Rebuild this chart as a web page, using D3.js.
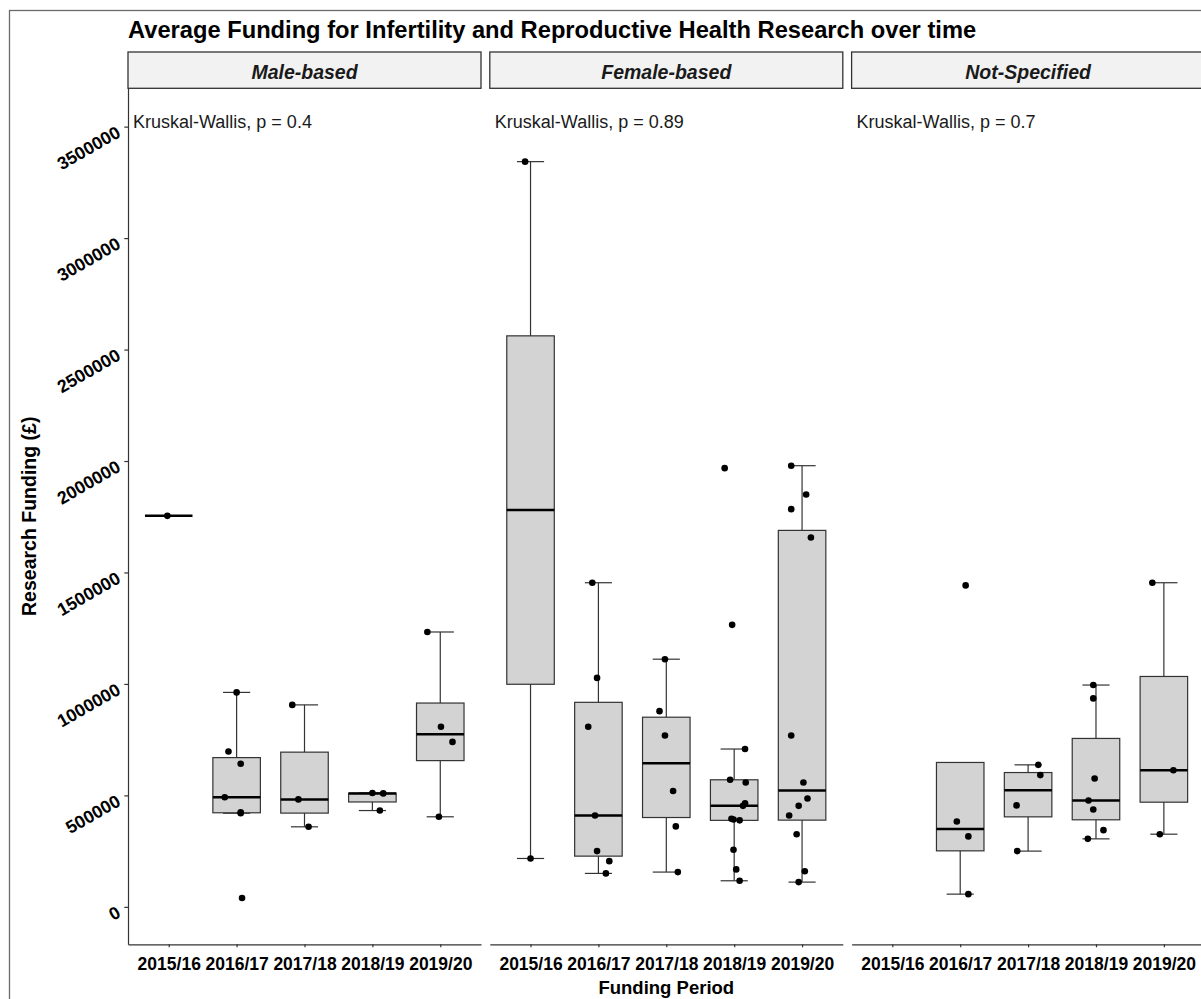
<!DOCTYPE html>
<html>
<head>
<meta charset="utf-8">
<script src="https://cdn.jsdelivr.net/npm/d3@7"></script>
<style>
  body { margin: 0; background: #fff; }
  svg { display: block; font-family: "Liberation Sans", Arial, sans-serif; }
</style>
</head>
<body>
<svg id="chart" width="1201" height="999"></svg>
<script>
// x categories, facets and the test label of each facet
const periods = ['2015/16', '2016/17', '2017/18', '2018/19', '2019/20'];
const facets = ['Male-based', 'Female-based', 'Not-Specified'];
const kwLabels = ['Kruskal-Wallis, p = 0.4', 'Kruskal-Wallis, p = 0.89', 'Kruskal-Wallis, p = 0.7'];
const yTicks = [0, 500000, 1000000, 1500000, 2000000, 2500000, 3000000, 3500000];

// funding of each grant (GBP), one list per period
const maleFunding = [
    [1754000],
    [962000, 697000, 642000, 492000, 424000, 420000, 40000],
    [906000, 482000, 359000],
    [511000, 509000, 432000],
    [1233000, 808000, 740000, 404000]
];
const femaleFunding = [
    [3343000, 217000],
    [1454000, 1027000, 808000, 410000, 250000, 205000, 150000],
    [1111000, 878000, 769000, 520000, 361000, 156000],
    [1968000, 1265000, 708000, 570000, 558000, 465000, 453000, 395000, 392000, 388000, 256000, 168000, 117000],
    [1979000, 1850000, 1784000, 1657000, 769000, 558000, 486000, 453000, 410000, 326000, 160000, 111000]
];
const notSpecFunding = [
    [],
    [1442000, 383000, 316000, 57000],
    [637000, 591000, 455000, 250000],
    [995000, 935000, 576000, 477000, 437000, 344000, 305000],
    [1454000, 613000, 326000]
];

// horizontal jitter of each dot, as a fraction of one period step
const maleJitter = [
    [-0.02],
    [0, -0.12, 0.06, -0.175, 0.06, 0.06, 0.08],
    [-0.18, -0.09, 0.06],
    [0, 0.16, 0.11],
    [-0.19, 0.01, 0.18, -0.02]
];
const femaleJitter = [
    [-0.08, 0],
    [-0.09, -0.02, -0.15, -0.05, -0.02, 0.16, 0.11],
    [-0.02, -0.1, -0.02, 0.1, 0.14, 0.17],
    [-0.14, -0.03, 0.16, -0.06, 0.17, 0.16, 0.13, -0.04, -0.01, 0.08, -0.01, 0.03, 0.08],
    [-0.16, 0.06, -0.16, 0.13, -0.16, 0.02, 0.08, -0.05, -0.19, -0.08, 0.04, -0.05]
];
const notSpecJitter = [
    [],
    [0.08, -0.05, 0.12, 0.12],
    [0.15, 0.18, -0.17, -0.16],
    [-0.04, -0.04, -0.02, -0.11, -0.04, 0.11, -0.12],
    [-0.17, 0.14, -0.06]
];

const funding = [maleFunding, femaleFunding, notSpecFunding];
const jitter = [maleJitter, femaleJitter, notSpecJitter];

// layout
const panelLeft = 128, panelW = 353, panelGap = 8.8;
const panelTop = 88.3, panelBottom = 944.3, stripTop = 52;
const font = '"Liberation Sans", Arial, sans-serif';
const lineCol = '#333333';

const svg = d3.select('#chart');

// outer plot border
svg.append('rect')
    .attr('x', 9.5).attr('y', 10.5)
    .attr('width', 1400).attr('height', 1200)
    .attr('fill', 'none')
    .attr('stroke', '#6b6b6b')
    .attr('stroke-width', 1.3);

svg.append('text')
    .attr('x', panelLeft).attr('y', 37.5)
    .attr('font-size', 23.7).attr('font-weight', 'bold')
    .attr('fill', '#000')
    .text('Average Funding for Infertility and Reproductive Health Research over time');

const y = d3.scaleLinear()
    .domain([-168000, 3672000])
    .range([panelBottom, panelTop]);

function boxStats(values) {
    const v = values.slice().sort(d3.ascending);
    const q1 = d3.quantile(v, 0.25), med = d3.quantile(v, 0.5), q3 = d3.quantile(v, 0.75);
    const iqr = q3 - q1;
    const inside = v.filter(d => d >= q1 - 1.5 * iqr && d <= q3 + 1.5 * iqr);
    return { q1: q1, med: med, q3: q3, lo: d3.min(inside), hi: d3.max(inside) };
}

facets.forEach((facet, f) => {
    const left = panelLeft + f * (panelW + panelGap);
    const x = d3.scalePoint()
        .domain(periods)
        .range([left, left + panelW])
        .padding(0.6);
    const step = x.step();
    const boxW = step * 0.7, capW = step * 0.4;

    // strip
    svg.append('rect')
        .attr('x', left).attr('y', stripTop)
        .attr('width', panelW).attr('height', panelTop - stripTop)
        .attr('fill', '#f2f2f2')
        .attr('stroke', lineCol)
        .attr('stroke-width', 1.3);
    svg.append('text')
        .attr('x', left + panelW / 2).attr('y', 78.5)
        .attr('text-anchor', 'middle')
        .attr('font-size', 19.5).attr('font-weight', 'bold').attr('font-style', 'italic')
        .attr('fill', '#1a1a1a')
        .text(facet);

    // x axis
    const xAxis = svg.append('g')
        .attr('transform', 'translate(0,' + panelBottom + ')')
        .call(d3.axisBottom(x).tickSize(3).tickSizeOuter(0));
    xAxis.select('.domain').attr('stroke', lineCol).attr('stroke-width', 1.2);
    xAxis.selectAll('.tick line').attr('stroke', lineCol).attr('stroke-width', 1.2);
    xAxis.selectAll('.tick text')
        .attr('y', 25.7).attr('dy', null)
        .attr('font-family', font).attr('font-size', 17.5).attr('font-weight', 'bold')
        .attr('fill', '#000');

    const g = svg.append('g').attr('class', 'panel');

    periods.forEach((p, i) => {
        const vals = funding[f][i];
        if (!vals.length) return;
        const s = boxStats(vals);
        const cx = x(p);

        // whiskers with caps
        g.append('line')
            .attr('x1', cx).attr('x2', cx)
            .attr('y1', y(s.lo)).attr('y2', y(s.hi))
            .attr('stroke', lineCol).attr('stroke-width', 1.2);
        [s.lo, s.hi].forEach(v => {
            g.append('line')
                .attr('x1', cx - capW / 2).attr('x2', cx + capW / 2)
                .attr('y1', y(v)).attr('y2', y(v))
                .attr('stroke', lineCol).attr('stroke-width', 1.2);
        });

        // box + median
        g.append('rect')
            .attr('x', cx - boxW / 2).attr('y', y(s.q3))
            .attr('width', boxW).attr('height', y(s.q1) - y(s.q3))
            .attr('fill', '#d3d3d3')
            .attr('stroke', lineCol).attr('stroke-width', 1.2);
        g.append('line')
            .attr('x1', cx - boxW / 2).attr('x2', cx + boxW / 2)
            .attr('y1', y(s.med)).attr('y2', y(s.med))
            .attr('stroke', '#000').attr('stroke-width', 2.5);

        // jittered points
        g.selectAll(null)
            .data(vals)
            .enter()
            .append('circle')
            .attr('cx', (d, k) => cx + jitter[f][i][k] * step)
            .attr('cy', d => y(d))
            .attr('r', 3.3)
            .attr('fill', '#000');
    });

    svg.append('text')
        .attr('x', left + 5).attr('y', 127.8)
        .attr('font-size', 18)
        .attr('fill', '#1a1a1a')
        .text(kwLabels[f]);

    // y axis only on the first panel
    if (f === 0) {
        const yAxis = svg.append('g')
            .attr('transform', 'translate(' + left + ',0)')
            .call(d3.axisLeft(y).tickValues(yTicks).tickSize(3.7).tickSizeOuter(0).tickFormat(d3.format('d')));
        yAxis.select('.domain').attr('stroke', lineCol).attr('stroke-width', 1.2);
        yAxis.selectAll('.tick line').attr('stroke', lineCol).attr('stroke-width', 1.2);
        yAxis.selectAll('.tick text')
            .attr('x', null).attr('dy', null)
            .attr('transform', 'translate(-6.3,8.8) rotate(-30)')
            .attr('text-anchor', 'end')
            .attr('font-family', font).attr('font-size', 17.8).attr('font-weight', 'bold')
            .attr('fill', '#000');
    }
});

// axis titles
svg.append('text')
    .attr('x', panelLeft + (3 * panelW + 2 * panelGap) / 2).attr('y', 993.5)
    .attr('text-anchor', 'middle')
    .attr('font-size', 18.5).attr('font-weight', 'bold')
    .text('Funding Period');

svg.append('text')
    .attr('transform', 'translate(35.5,' + (panelTop + panelBottom) / 2 + ') rotate(-90)')
    .attr('text-anchor', 'middle')
    .attr('font-size', 19.5).attr('font-weight', 'bold')
    .text('Research Funding (£)');
</script>
</body>
</html>
